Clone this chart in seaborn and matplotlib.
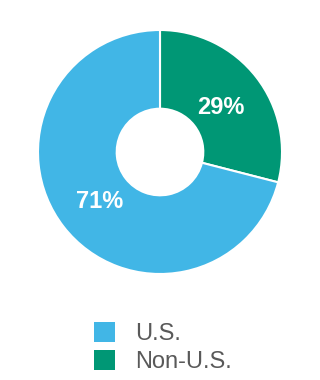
import matplotlib
matplotlib.use("Agg")
import matplotlib.pyplot as plt
import seaborn as sns
from matplotlib.patches import Patch

sns.set_theme(style="white")
plt.rcParams['font.family'] = ['Liberation Sans', 'DejaVu Sans']

# Data
categories = ["Non-U.S.", "U.S."]
values = [29, 71]
colors = ["#009775", "#41B6E6"]
legend_order = ["U.S.", "Non-U.S."]

fig = plt.figure(figsize=(3.2, 3.8), dpi=100)
fig.patch.set_facecolor("white")
ax = fig.add_axes([38/320, 1 - 274/380, 244/320, 244/380])

wedges, texts, autotexts = ax.pie(
    values, colors=colors, startangle=90, counterclock=False,
    autopct=lambda p: f"{p:.0f}%", pctdistance=0.63,
    wedgeprops=dict(width=0.645, edgecolor="white", linewidth=1.5),
    textprops=dict(color="white", fontsize=17, fontweight="bold"),
)
for t in autotexts:
    t.set_va("center_baseline")
ax.set_xlim(-1, 1)
ax.set_ylim(-1, 1)
ax.set_aspect("equal")
ax.axis("off")

handles = [Patch(facecolor=colors[categories.index(c)], edgecolor="none") for c in legend_order]
fig.legend(handles, legend_order, loc="upper left",
           bbox_to_anchor=(94/320, 1 - 322/380), frameon=False,
           fontsize=17, labelcolor="#595959", handlelength=0.9, handleheight=0.9,
           handletextpad=0.85, labelspacing=0.22, borderpad=0, borderaxespad=0)

fig.savefig("out.png", dpi=100, facecolor="white")
